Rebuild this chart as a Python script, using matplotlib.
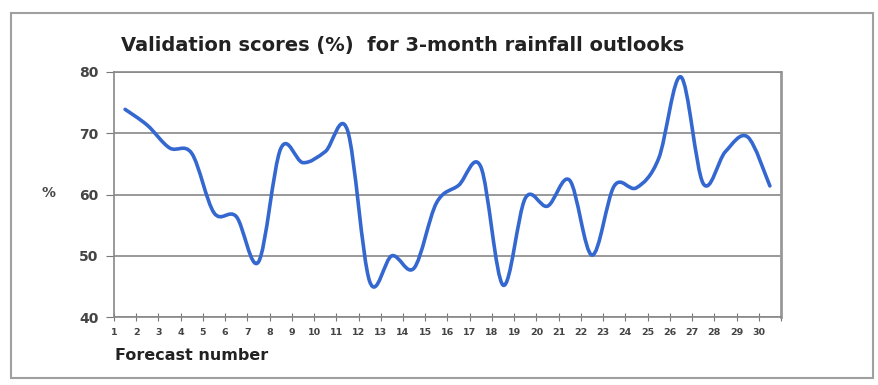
import numpy as np
import matplotlib
matplotlib.use("Agg")
import matplotlib.pyplot as plt
from matplotlib.path import Path
from matplotlib.patches import PathPatch, Rectangle

plt.rcParams['font.family'] = ['DejaVu Sans']

# data
forecast = list(range(1, 31))
scores = [73.9, 71.3, 67.6, 66.7, 57.0, 56.4, 49.0, 67.5, 65.2, 67.0,
          70.5, 45.8, 50.0, 48.0, 58.6, 61.5, 64.5, 45.2, 59.4, 58.1,
          62.3, 50.1, 61.4, 61.1, 65.9, 79.2, 61.8, 67.0, 69.4, 61.4]
y_ticks = [40, 50, 60, 70, 80]
x_labels = [str(i) for i in forecast]

fig = plt.figure(figsize=(8.79, 3.85), dpi=100)
ax = fig.add_axes([0.1297, 0.1766, 0.7588, 0.6364])

# smoothed line (Excel-style, Catmull-Rom as cubic Bezier)
x = np.array(forecast, dtype=float)
y = np.array(scores, dtype=float)
verts = [(x[0], y[0])]
codes = [Path.MOVETO]
n = len(x)
for i in range(n - 1):
    p0 = i - 1 if i > 0 else 0
    p3 = i + 2 if i + 2 < n else n - 1
    c1 = (x[i] + (x[i + 1] - x[p0]) / 6, y[i] + (y[i + 1] - y[p0]) / 6)
    c2 = (x[i + 1] - (x[p3] - x[i]) / 6, y[i + 1] - (y[p3] - y[i]) / 6)
    verts += [c1, c2, (x[i + 1], y[i + 1])]
    codes += [Path.CURVE4] * 3
ax.add_patch(PathPatch(Path(verts, codes), fill=False, edgecolor='#3468d0',
                       lw=2.6, capstyle='round', joinstyle='round', zorder=3))

ax.set_xlim(0.5, 30.5)
ax.set_ylim(40, 80)

ax.set_yticks(y_ticks)
ax.set_yticklabels([str(v) for v in y_ticks], fontsize=10, fontweight='bold', color='#444444')
ax.yaxis.grid(True, color='#888888', lw=1.2)
ax.set_axisbelow(True)

ax.set_xticks(np.arange(0.5, 31), labels=x_labels + [''], fontsize=6.8,
              fontweight='bold', color='#444444')
ax.tick_params(axis='x', direction='inout', length=6, color='#777777', pad=5)
ax.tick_params(axis='y', direction='out', length=6, color='#777777', pad=5)

for side in ['left', 'bottom', 'top']:
    ax.spines[side].set_color('#888888')
    ax.spines[side].set_linewidth(1.2)
ax.spines['right'].set_color('#999999')
ax.spines['right'].set_linewidth(2.0)

fig.text(403 / 879, 1 - 45 / 385, 'Validation scores (%)  for 3-month rainfall outlooks',
         ha='center', va='center', fontsize=14, fontweight='bold', color='#222222')
fig.text(49 / 879, 1 - 193 / 385, '%', ha='center', va='center', fontsize=10,
         fontweight='bold', color='#444444')
fig.text(115 / 879, 1 - 355 / 385, 'Forecast number', ha='left', va='center',
         fontsize=11.5, fontweight='bold', color='#222222')

fig.patches.append(Rectangle((11 / 879, 1 - 378 / 385), 862 / 879, 365 / 385,
                             transform=fig.transFigure, fill=False,
                             edgecolor='#a0a0a0', lw=1.5))

fig.savefig('out.png', dpi=100)
